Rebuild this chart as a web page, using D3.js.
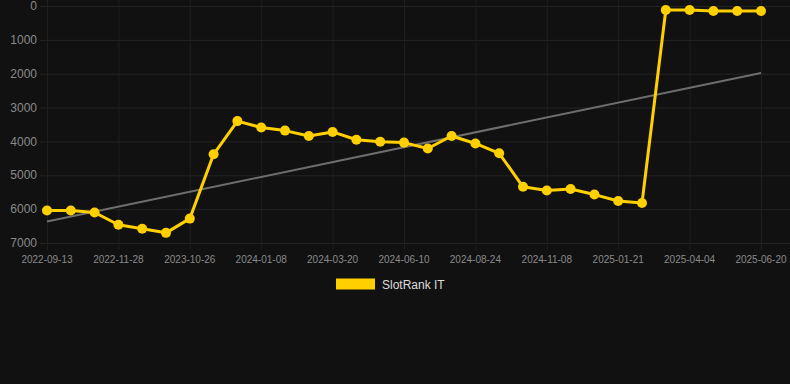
<!DOCTYPE html>
<html>
<head>
<meta charset="UTF-8">
<title>SlotRank IT</title>
<script src="https://d3js.org/d3.v7.min.js"></script>
<style>
  body { margin: 0; background: #111111; }
  svg { display: block; font-family: "Liberation Sans", Arial, sans-serif; }
</style>
</head>
<body>
<svg id="chart"></svg>
<script>
// rank per snapshot (lower is better)
const dates = [
  "2022-09-13", "2022-10-08", "2022-11-02", "2022-11-28", "2023-03-10", "2023-07-20",
  "2023-10-26", "2023-11-20", "2023-12-14", "2024-01-08", "2024-02-01", "2024-02-25",
  "2024-03-20", "2024-04-16", "2024-05-14", "2024-06-10", "2024-07-05", "2024-07-30",
  "2024-08-24", "2024-09-18", "2024-10-14", "2024-11-08", "2024-12-03", "2024-12-27",
  "2025-01-21", "2025-02-14", "2025-03-10", "2025-04-04", "2025-04-30", "2025-05-25",
  "2025-06-20"
];
const ranks = [
  6040, 6040, 6100, 6460, 6580, 6700, 6280, 4380, 3400, 3590, 3680, 3840,
  3720, 3950, 4010, 4035, 4210, 3840, 4060, 4350, 5340, 5450, 5405, 5570,
  5760, 5820, 118, 118, 148, 148, 148
];
const yTicks = [0, 1000, 2000, 3000, 4000, 5000, 6000, 7000];
const seriesName = "SlotRank IT";

const width = 790, height = 384;
const svg = d3.select("#chart").attr("width", width).attr("height", height);

const x = d3.scalePoint().domain(d3.range(dates.length)).range([47, 761]);
const y = d3.scaleLinear().domain([0, 7000]).range([6, 243]);

// grid
svg.append("g")
  .selectAll("line")
  .data(yTicks)
  .enter().append("line")
    .attr("x1", 40).attr("x2", width)
    .attr("y1", d => y(d) + 0.5).attr("y2", d => y(d) + 0.5)
    .attr("stroke", "#242424").attr("stroke-width", 1);

const xTickIdx = d3.range(0, dates.length, 3);
svg.append("g")
  .selectAll("line")
  .data(xTickIdx)
  .enter().append("line")
    .attr("x1", d => x(d) + 0.5).attr("x2", d => x(d) + 0.5)
    .attr("y1", 0).attr("y2", 250)
    .attr("stroke", "#1f1f1f").attr("stroke-width", 1);

// axis labels
svg.append("g")
  .selectAll("text")
  .data(yTicks)
  .enter().append("text")
    .attr("x", 37).attr("y", d => y(d))
    .attr("dy", "0.35em")
    .attr("text-anchor", "end")
    .attr("fill", "#8a8a8a")
    .attr("font-size", 12)
    .text(d => d);

svg.append("g")
  .selectAll("text")
  .data(xTickIdx)
  .enter().append("text")
    .attr("x", d => x(d)).attr("y", 259)
    .attr("dy", "0.35em")
    .attr("text-anchor", "middle")
    .attr("fill", "#8a8a8a")
    .attr("font-size", 10)
    .text(d => dates[d]);

// trend line (least squares over index)
const mx = d3.mean(ranks, (d, i) => i), my = d3.mean(ranks);
const slope = d3.sum(ranks, (d, i) => (i - mx) * (d - my)) / d3.sum(ranks, (d, i) => (i - mx) * (i - mx));
const trend = [0, dates.length - 1].map(i => [i, my + slope * (i - mx)]);
svg.append("path")
  .datum(trend)
  .attr("fill", "none")
  .attr("stroke", "#6e6e6e")
  .attr("stroke-width", 2)
  .attr("d", d3.line().x(d => x(d[0])).y(d => y(d[1])));

// series
const line = d3.line().x((d, i) => x(i)).y(d => y(d));
svg.append("path")
  .datum(ranks)
  .attr("fill", "none")
  .attr("stroke", "#FFD000")
  .attr("stroke-width", 3)
  .attr("stroke-linejoin", "round")
  .attr("d", line);

svg.append("g")
  .selectAll("circle")
  .data(ranks)
  .enter().append("circle")
    .attr("cx", (d, i) => x(i))
    .attr("cy", d => y(d))
    .attr("r", 5)
    .attr("fill", "#FFD000");

// legend
svg.append("rect")
  .attr("x", 336).attr("y", 278.5)
  .attr("width", 39).attr("height", 11)
  .attr("fill", "#FFD000");
svg.append("text")
  .attr("x", 382).attr("y", 284.5)
  .attr("dy", "0.35em")
  .attr("fill", "#dddddd")
  .attr("font-size", 12)
  .text(seriesName);
</script>
</body>
</html>
